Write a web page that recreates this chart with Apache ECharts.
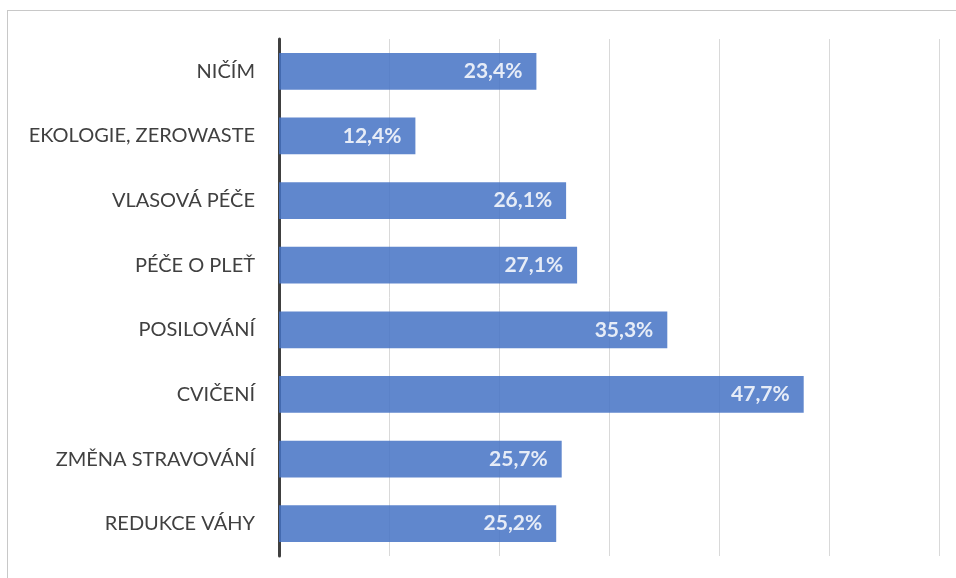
<!DOCTYPE html>
<html>
<head>
<meta charset="utf-8">
<script src="https://cdn.jsdelivr.net/npm/echarts@6/dist/echarts.min.js"></script>
<style>
  html, body { margin: 0; padding: 0; background: #fff; }
  #frame { position: absolute; left: 7px; top: 10px; width: 960px; height: 600px; border: 1px solid #c8c8c8; box-sizing: border-box; }
  #chart { position: absolute; left: 0; top: 0; width: 956px; height: 578px; }
</style>
</head>
<body>
<div id="frame"></div>
<div id="chart"></div>
<script>
const categories = ["NIČÍM", "EKOLOGIE, ZEROWASTE", "VLASOVÁ PÉČE", "PÉČE O PLEŤ", "POSILOVÁNÍ", "CVIČENÍ", "ZMĚNA STRAVOVÁNÍ", "REDUKCE VÁHY"];
const values = [23.4, 12.4, 26.1, 27.1, 35.3, 47.7, 25.7, 25.2];
const axisMax = 60;
const axisStep = 10;

const myChart = echarts.init(document.getElementById("chart"));
myChart.setOption({
  animation: false,
  grid: { left: 279, right: 17, top: 39, bottom: 22, containLabel: false },
  xAxis: {
    type: "value",
    min: 0,
    max: axisMax,
    interval: axisStep,
    axisLabel: { show: false },
    axisLine: { show: false },
    axisTick: { show: false },
    splitLine: { lineStyle: { color: "#d9d9d9", width: 1 } }
  },
  yAxis: {
    type: "category",
    data: categories,
    inverse: true,
    axisLine: { lineStyle: { color: "#404040", width: 3 } },
    axisTick: { show: false },
    axisLabel: { color: "#404040", fontFamily: "Lato", fontSize: 20, margin: 24 }
  },
  series: [{
    type: "bar",
    data: values,
    barCategoryGap: "43%",
    itemStyle: { color: "#4472c4", opacity: 0.85 },
    label: {
      show: true,
      position: "insideRight",
      distance: 14,
      color: "#fff",
      fontFamily: "Lato",
      fontWeight: "bold",
      fontSize: 21,
      formatter: p => p.value.toFixed(1).replace(".", ",") + "%"
    }
  }]
});
</script>
</body>
</html>
